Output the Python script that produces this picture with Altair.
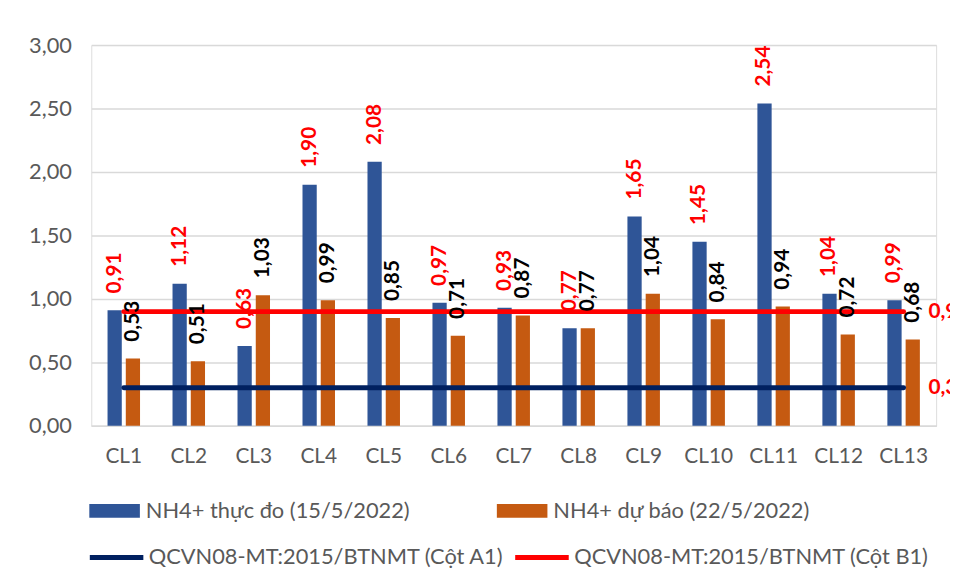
import altair as alt
import pandas as pd

categories = ["CL1", "CL2", "CL3", "CL4", "CL5", "CL6", "CL7", "CL8", "CL9", "CL10", "CL11", "CL12", "CL13"]
measured = [0.91, 1.12, 0.63, 1.90, 2.08, 0.97, 0.93, 0.77, 1.65, 1.45, 2.54, 1.04, 0.99]
forecast = [0.53, 0.51, 1.03, 0.99, 0.85, 0.71, 0.87, 0.77, 1.04, 0.84, 0.94, 0.72, 0.68]
limit_a1 = 0.30
limit_b1 = 0.90

bar_series = ["NH4+ thực đo (15/5/2022)", "NH4+ dự báo (22/5/2022)"]
line_series = ["QCVN08-MT:2015/BTNMT (Cột A1)", "QCVN08-MT:2015/BTNMT (Cột B1)"]
y_ticks = [0.0, 0.5, 1.0, 1.5, 2.0, 2.5, 3.0]

FONT = "Lato"


def vn(v):
    return f"{v:.2f}".replace(".", ",")


bar_rows = []
for c, m, f in zip(categories, measured, forecast):
    bar_rows.append({"cat": c, "series": bar_series[0], "value": m, "order": 0, "label": vn(m)})
    bar_rows.append({"cat": c, "series": bar_series[1], "value": f, "order": 1, "label": vn(f)})
bars_df = pd.DataFrame(bar_rows)

line_rows = []
for s, v in zip(line_series, [limit_a1, limit_b1]):
    for c in categories:
        line_rows.append({"cat": c, "series": s, "value": v, "label": vn(v)})
lines_df = pd.DataFrame(line_rows)
end_df = lines_df[lines_df["cat"] == categories[-1]]

x_enc = alt.X(
    "cat:N",
    sort=categories,
    scale=alt.Scale(paddingInner=0.5, paddingOuter=0.25),
    axis=alt.Axis(
        title=None, labelAngle=0, ticks=False, domainColor="#d9d9d9", domainWidth=1.5,
        labelFont=FONT, labelFontSize=21, labelColor="#595959", labelPadding=20,
    ),
)
y_enc = alt.Y(
    "value:Q",
    scale=alt.Scale(domain=[0, 3], nice=False),
    axis=alt.Axis(
        title=None, values=y_ticks, labelExpr="replace(format(datum.value, '.2f'), '.', ',')",
        domain=False, ticks=False, gridColor="#d9d9d9", gridWidth=1.5,
        labelFont=FONT, labelFontSize=22, labelColor="#595959", labelPadding=20,
    ),
)
xoff = alt.XOffset("series:N", sort=bar_series, scale=alt.Scale(paddingInner=0.22, paddingOuter=0))

bars = alt.Chart(bars_df).mark_bar().encode(
    x=x_enc,
    y=y_enc,
    xOffset=xoff,
    fill=alt.Fill(
        "series:N",
        scale=alt.Scale(domain=bar_series, range=["#2F5597", "#C55A11"]),
        legend=alt.Legend(
            title=None, orient="none", legendX=-2, legendY=444, direction="horizontal",
            symbolType="M-1,-0.27H1V0.27H-1Z", symbolSize=2601, symbolStrokeWidth=0,
            labelFont=FONT, labelFontSize=22, labelColor="#595959", labelOffset=6,
            columnPadding=87, padding=0, labelLimit=500,
        ),
    ),
)

lines = alt.Chart(lines_df).mark_line(strokeWidth=5, strokeCap="round").encode(
    x=alt.X("cat:N", sort=categories),
    y="value:Q",
    stroke=alt.Stroke(
        "series:N",
        scale=alt.Scale(domain=line_series, range=["#002060", "#FF0000"]),
        legend=alt.Legend(
            title=None, orient="none", legendX=-4, legendY=487, direction="horizontal",
            symbolType="stroke", symbolSize=2916, symbolStrokeWidth=5,
            labelFont=FONT, labelFontSize=22, labelColor="#595959", labelOffset=3,
            columnPadding=0, padding=0, labelLimit=500,
        ),
    ),
)

bar_labels = alt.Chart(bars_df).mark_text(
    angle=270, align="left", baseline="middle", dx=17, font=FONT, fontSize=21, fontWeight="bold"
).encode(
    x=alt.X("cat:N", sort=categories),
    y="value:Q",
    xOffset=alt.XOffset("series:N", sort=bar_series),
    text="label:N",
    color=alt.condition(alt.datum.order == 0, alt.value("#FF0000"), alt.value("#000000")),
)

end_labels = alt.Chart(end_df).mark_text(
    align="left", baseline="middle", dx=25, font=FONT, fontSize=21, fontWeight="bold", color="#FF0000"
).encode(
    x=alt.X("cat:N", sort=categories),
    y="value:Q",
    text="label:N",
)

chart = (
    alt.layer(bars, lines, bar_labels, end_labels)
    .resolve_legend(fill="independent", stroke="independent")
    .properties(
        width=852, height=384, autosize="none",
        padding={"left": 84, "top": 35, "right": 14, "bottom": 149},
    )
    .configure_view(stroke=None)
    .configure(font=FONT)
)

chart.save("out.html", embed_options={"renderer": "svg", "actions": False})
